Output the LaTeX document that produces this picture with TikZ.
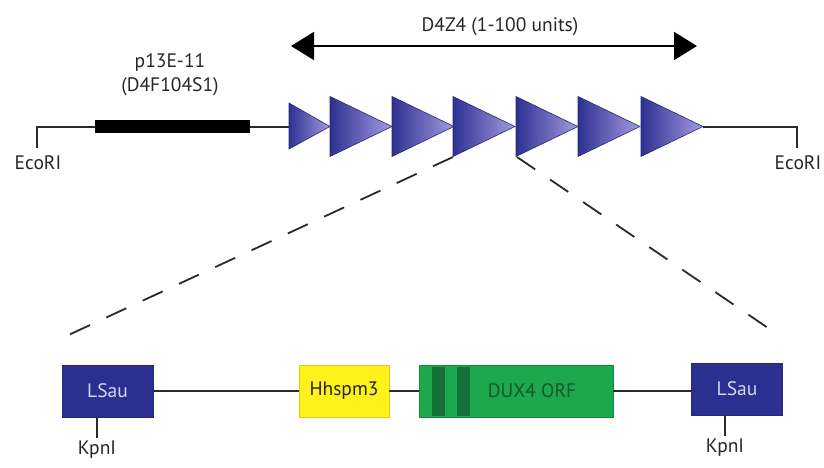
\documentclass[tikz,border=0pt]{standalone}
\usepackage{fontspec}
\setmainfont{PT Sans}
\usetikzlibrary{arrows.meta}
\definecolor{lsaublue}{HTML}{2B3090}
\definecolor{lsautext}{HTML}{D8D8F2}
\definecolor{repdark}{HTML}{2E3192}
\definecolor{replight}{HTML}{A49BE0}
\definecolor{hhyellow}{HTML}{FFF21A}
\definecolor{duxgreen}{HTML}{1DA84E}
\definecolor{duxdark}{HTML}{157038}
\definecolor{duxtext}{HTML}{0E5A28}
\definecolor{linegray}{HTML}{2A2A2A}
\definecolor{labelgray}{HTML}{262626}
\begin{document}
\begin{tikzpicture}[x=1pt,y=-1pt,
  dnaline/.style={draw=linegray,line width=1.6pt},
  cutline/.style={draw=linegray,line width=1.8pt,dash pattern=on 22pt off 18pt},
  lbl/.style={text=labelgray,font=\fontsize{19.5}{24}\selectfont,inner sep=0pt,align=center},
  repeatunit/.style={left color=repdark,right color=replight,draw=repdark!80!black,line width=0.6pt},
  boxbase/.style={minimum height=52pt,inner sep=0pt,font=\fontsize{19.5}{24}\selectfont,line width=0.6pt},
  lsaubox/.style={boxbase,fill=lsaublue,draw=lsaublue!85!black,text=lsautext,minimum width=91pt},
  hhbox/.style={boxbase,fill=hhyellow,draw=hhyellow!85!black,text=black!85,minimum width=90pt},
  duxbox/.style={boxbase,fill=duxgreen,draw=duxgreen!80!black,minimum width=194pt},
]
\useasboundingbox (0,0) rectangle (824,467);

% ---- upper map: EcoRI fragment with the D4Z4 array ----
\coordinate (ecoL) at (37,148);
\coordinate (ecoLtop) at (37,127);
\coordinate (ecoR) at (797,148);
\coordinate (ecoRtop) at (797,127);
\coordinate (barL) at (95,126);
\coordinate (barR) at (250,126);
\coordinate (arrStart) at (289,127);
\coordinate (arrEnd) at (703,127);

\draw[dnaline] (ecoL) -- (ecoLtop) -- (arrStart);
\draw[dnaline] (arrEnd) -- (ecoRtop) -- (ecoR);
\draw[line width=13pt,line cap=butt] (barL) -- (barR);

\node[lbl,anchor=north] (ecoLlbl) at (38,155) {EcoRI};
\node[lbl,anchor=north] (ecoRlbl) at (798,155) {EcoRI};
\node[lbl] (probe) at (170,75) {p13E-11\\(D4F104S1)};

% repeat units (first one is partial)
\shade[repeatunit] (289,103) -- (330,126.5) -- (289,149) -- cycle;
\foreach \x in {330,392,453,516,578,641}{
  \shade[repeatunit] (\x,96.5) -- (\x+62,126.5) -- (\x,156.5) -- cycle;
}

% extent of the array
\coordinate (d4l) at (291,46);
\coordinate (d4r) at (697,46);
\draw[line width=1.8pt,{Triangle[length=23pt,width=28pt]}-{Triangle[length=23pt,width=28pt]}] (d4l) -- (d4r);
\node[lbl] (d4lbl) at (500,27) {D4Z4 (1-100 units)};

% ---- expansion of one unit ----
\coordinate (unitL) at (453,157);
\coordinate (unitR) at (517,157);
\coordinate (expL) at (62,338);
\coordinate (expR) at (768,328);
\draw[cutline] (unitL) -- (expL);
\draw[cutline] (unitR) -- (expR);

\node[lsaubox] (lsauL) at (107.5,391) {LSau};
\node[hhbox] (hh) at (344,391) {Hhspm3};
\node[duxbox] (dux) at (516,391) {};
\node[lsaubox] (lsauR) at (737,389) {LSau};

% darker stripes inside the ORF
\fill[duxdark] (432,367) rectangle (445,416);
\fill[duxdark] (457,367) rectangle (470,416);
\node[text=duxtext,font=\fontsize{19.5}{24}\selectfont,inner sep=0pt] (duxlbl) at (532,391) {DUX4 ORF};

\draw[dnaline] (lsauL.east) -- (hh.west);
\draw[dnaline] (hh.east) -- (dux.west);
\draw[dnaline] (dux.east) -- (lsauR.west |- dux.east);

% KpnI sites
\coordinate (kpnL) at (97,438);
\coordinate (kpnR) at (725,436);
\draw[dnaline] (lsauL.south -| kpnL) -- (kpnL);
\draw[dnaline] (lsauR.south -| kpnR) -- (kpnR);
\node[lbl,anchor=north] (kpnLlbl) at (97,441) {KpnI};
\node[lbl,anchor=north] (kpnRlbl) at (725,439) {KpnI};
\end{tikzpicture}
\end{document}
